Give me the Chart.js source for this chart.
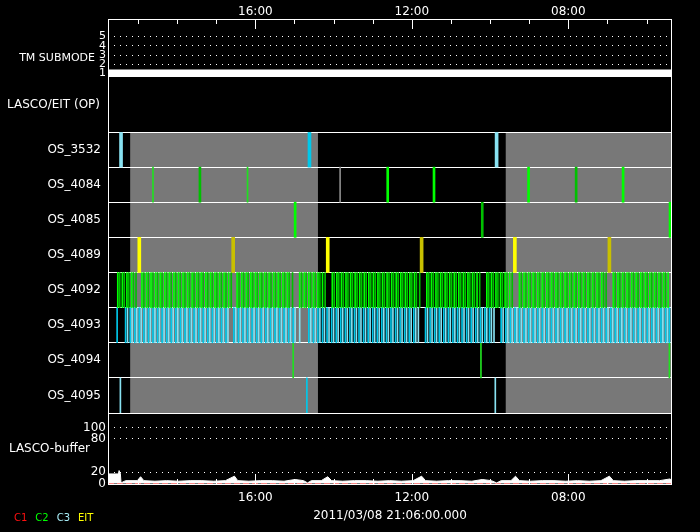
<!DOCTYPE html>
<html>
<head>
<meta charset="utf-8">
<script src="https://cdn.jsdelivr.net/npm/chart.js@4.4.1/dist/chart.umd.min.js"></script>
<style>
  html, body { margin: 0; background: #000; }
</style>
</head>
<body>
<canvas id="chart" width="700" height="532"></canvas>
<script>
// time axis: minutes from the left edge of the window
const xMax = 865;
const hourTicks = [46, 106, 166, 226, 286, 346, 406, 466, 526, 586, 646, 706, 766, 826];
const hourLabels = ["", "", "", "16:00", "", "", "", "12:00", "", "", "", "08:00", "", ""];
const dateLabel = "2011/03/08 21:06:00.000";

const rowNames = ["OS_3532", "OS_4084", "OS_4085", "OS_4089", "OS_4092", "OS_4093", "OS_4094", "OS_4095"];
const legendNames = ["C1", "C2", "C3", "EIT"];

const tmTicks = [1, 2, 3, 4, 5];
const tmTimes = [0, 865];
const tmSubmode = [1, 1];

const bufferTicks = [0, 20, 80, 100];

// grey blocks (minutes)
const shadeStart = [34, 610];
const shadeEnd = [322, 865];

// single images per row (minutes)
const os3532Light = [20, 596];
const os3532Cyan = [309];
const os4084Light = [69, 214];
const os4084Green = [429, 500, 645, 790];
const os4084Dark = [141, 718];
const os4084Grey = [356];
const os4085Green = [287, 862];
const os4085Dark = [574];
const os4089Yellow = [48, 337, 624];
const os4089Olive = [192, 481, 769];
const os4094Green = [284, 572, 861];
const os4095Light = [19, 594];
const os4095Cyan = [305];

// dense C2 sequence, OS_4092 (minutes)
const os4092Green = [15, 22, 29, 36, 52, 59, 66, 73, 80, 87, 94, 101, 108, 115, 122, 129, 136, 143, 150, 157,
  164, 171, 178, 185, 198, 205, 212, 219, 226, 233, 240, 247, 254, 261, 268, 275, 294, 301, 308, 315,
  322, 329, 344, 351, 358, 365, 372, 379, 386, 393, 400, 407, 414, 421, 428, 435, 442, 449, 456, 463,
  470, 489, 496, 503, 510, 517, 524, 531, 538, 545, 552, 559, 566, 581, 588, 595, 602, 609, 616, 631,
  638, 645, 652, 659, 666, 673, 680, 687, 694, 701, 708, 715, 722, 729, 736, 743, 750, 757, 775, 782,
  789, 796, 803, 810, 817, 824, 831, 838, 845, 852, 859];
const os4092Dark = [18, 25, 32, 39, 43, 55, 62, 69, 76, 83, 90, 97, 104, 111, 118, 125, 132, 139, 146, 153, 160,
  167, 174, 181, 189, 201, 208, 215, 222, 229, 236, 243, 250, 257, 264, 271, 278, 283, 297, 304, 311, 318, 325,
  333, 347, 354, 361, 368, 375, 382, 389, 396, 403, 410, 417, 424, 431, 438, 445, 452, 459, 466, 473, 478, 492,
  499, 506, 513, 520, 527, 534, 541, 548, 555, 562, 570, 584, 591, 598, 605, 612, 620, 634, 641, 648, 655, 662,
  669, 676, 683, 690, 697, 704, 711, 718, 725, 732, 739, 746, 753, 760, 764, 778, 785, 792, 799, 806, 813,
  820, 827, 834, 841, 848, 855];

// dense C3 sequence, OS_4093 (minutes)
const os4093Cyan = [14, 27, 34, 41, 48, 55, 62, 69, 76, 83, 90, 97, 104, 111, 118, 125, 132, 139, 146, 153,
  160, 167, 174, 181, 193, 200, 207, 214, 221, 228, 235, 242, 249, 256, 263, 270, 277, 284, 308, 315,
  322, 329, 336, 343, 350, 357, 364, 371, 378, 385, 392, 399, 406, 413, 420, 427, 434, 441, 448, 455,
  462, 469, 487, 494, 501, 508, 515, 522, 529, 536, 543, 550, 557, 564, 571, 578, 585, 603, 610, 617,
  624, 631, 638, 645, 652, 659, 666, 673, 680, 687, 694, 701, 708, 715, 722, 729, 736, 743, 750, 757,
  764, 771, 778, 785, 792, 799, 806, 813, 820, 827, 834, 841, 848, 855, 861];
const os4093Light = [30, 37, 44, 51, 58, 65, 72, 79, 86, 93, 100, 107, 114, 121, 128, 135, 142, 149, 156, 163,
  170, 177, 184, 196, 203, 210, 217, 224, 231, 238, 245, 252, 259, 266, 273, 280, 287, 294, 311, 318, 325, 332,
  339, 346, 353, 360, 367, 374, 381, 388, 395, 402, 409, 416, 423, 430, 437, 444, 451, 458, 465, 472, 476,
  490, 497, 504, 511, 518, 525, 532, 539, 546, 553, 560, 567, 574, 581, 588, 592, 606, 613, 620, 627, 634,
  641, 648, 655, 662, 669, 676, 683, 690, 697, 704, 711, 718, 725, 732, 739, 746, 753, 760, 767, 774,
  781, 788, 795, 802, 809, 816, 823, 830, 837, 844, 851, 858];

// LASCO buffer fill level
const bufferTimes = [0, 16, 17, 19, 20, 27, 45, 50, 55, 72, 90, 108, 126, 144, 162, 180, 194, 199, 216, 234,
  252, 270, 287, 300, 306, 312, 327, 337, 343, 360, 378, 396, 414, 432, 450, 468, 481, 487, 504, 522,
  540, 558, 574, 588, 596, 603, 618, 625, 631, 648, 666, 684, 702, 720, 738, 756, 769, 775, 792, 810,
  828, 846, 862, 865];
const bufferValues = [17, 17, 23, 17, 1, 5, 5, 12, 5, 4, 5, 4, 5, 5, 4, 5, 13, 5, 4, 5,
  5, 4, 7, 5, 1, 5, 5, 12, 5, 4, 5, 5, 4, 5, 4, 5, 13, 5, 4, 5,
  5, 4, 7, 5, 1, 5, 5, 13, 5, 4, 5, 5, 4, 5, 4, 5, 13, 5, 4, 5,
  5, 5, 8, 5];
const c1Times = [0, 865];
const c1Values = [0, 0];

const colors = {
  grey: "#787878",
  light: "#88e2f2",
  cyan: "#00c8ea",
  green: "#00ff00",
  dark: "#00c000",
  lightGreen: "#20e020",
  yellow: "#ffff00",
  olive: "#c8c000",
  red: "#ff1010",
};
const legendColors = [colors.red, colors.green, "#a8eef8", colors.yellow];

Chart.defaults.font.family = "'DejaVu Sans', sans-serif";
Chart.defaults.font.size = 12;
Chart.defaults.color = "#fff";

function marks(row, times, color, width) {
  return {
    type: "bar",
    xAxisID: "x",
    yAxisID: "yOs",
    data: times.map((t) => ({ x: t, y: [row, row + 1] })),
    backgroundColor: color,
    barThickness: width,
    grouped: false,
    borderWidth: 0,
  };
}

const datasets = [
  {
    type: "line",
    xAxisID: "x",
    yAxisID: "ySub",
    data: tmTimes.map((t, i) => ({ x: t, y: tmSubmode[i] })),
    borderColor: "#fff",
    borderWidth: 8,
    pointRadius: 0,
  },
  marks(0, os3532Light, colors.light, 3),
  marks(0, os3532Cyan, colors.cyan, 3),
  marks(1, os4084Light, colors.lightGreen, 1),
  marks(1, os4084Green, colors.green, 2),
  marks(1, os4084Dark, colors.dark, 2),
  marks(1, os4084Grey, "#8a8a8a", 1),
  marks(2, os4085Green, colors.green, 2),
  marks(2, os4085Dark, colors.dark, 2),
  marks(3, os4089Yellow, colors.yellow, 3),
  marks(3, os4089Olive, colors.olive, 3),
  marks(4, os4092Green, colors.green, 1),
  marks(4, os4092Dark, colors.dark, 1),
  marks(5, os4093Cyan, colors.cyan, 1),
  marks(5, os4093Light, colors.light, 1),
  marks(6, os4094Green, colors.lightGreen, 1),
  marks(7, os4095Light, colors.light, 1),
  marks(7, os4095Cyan, colors.cyan, 1),
  {
    type: "line",
    xAxisID: "x",
    yAxisID: "yBuf",
    data: bufferTimes.map((t, i) => ({ x: t, y: bufferValues[i] })),
    borderColor: "#fff",
    backgroundColor: "#fff",
    borderWidth: 1,
    fill: "origin",
    pointRadius: 0,
  },
  {
    type: "line",
    xAxisID: "x",
    yAxisID: "yBuf",
    data: c1Times.map((t, i) => ({ x: t, y: c1Values[i] })),
    borderColor: colors.red,
    borderWidth: 1,
    borderDash: [6, 3],
    pointRadius: 0,
  },
];

const panelLabels = {
  id: "panelLabels",
  beforeDraw(chart) {
    const { ctx, scales } = chart;
    // grey blocks behind the OS rows
    ctx.save();
    ctx.fillStyle = colors.grey;
    const top = scales.yOs.getPixelForValue(0);
    const bottom = scales.yOs.getPixelForValue(8);
    shadeStart.forEach((s, i) => {
      const x0 = scales.x.getPixelForValue(s);
      const x1 = scales.x.getPixelForValue(shadeEnd[i]);
      ctx.fillRect(x0, top, x1 - x0, bottom - top);
    });
    ctx.restore();
  },
  afterDraw(chart) {
    const { ctx, chartArea, scales } = chart;
    ctx.save();
    ctx.strokeStyle = "#fff";
    ctx.lineWidth = 1;
    ctx.strokeRect(chartArea.left + 0.5, chartArea.top + 0.5, chartArea.width - 1, chartArea.height);

    // inward hour ticks, top and bottom
    ctx.beginPath();
    hourTicks.forEach((v, i) => {
      const x = Math.round(scales.x.getPixelForValue(v)) + 0.5;
      const len = hourLabels[i] ? 10 : 5;
      ctx.moveTo(x, chartArea.top);
      ctx.lineTo(x, chartArea.top + len);
      ctx.moveTo(x, chartArea.bottom);
      ctx.lineTo(x, chartArea.bottom - len);
    });
    ctx.stroke();

    ctx.fillStyle = "#fff";
    ctx.textAlign = "right";
    ctx.textBaseline = "middle";
    ctx.font = "11px 'DejaVu Sans'";
    ctx.fillText("TM SUBMODE", 95, scales.ySub.getPixelForValue(2.7));
    ctx.font = "12px 'DejaVu Sans'";
    ctx.fillText("LASCO-buffer", 90, scales.yBuf.getPixelForValue(61));

    ctx.font = "10px 'DejaVu Sans'";
    ctx.textAlign = "left";
    let x = 14;
    legendNames.forEach((name, i) => {
      ctx.fillStyle = legendColors[i];
      ctx.fillText(name, x, 518);
      x += ctx.measureText(name).width + 8;
    });
    ctx.restore();
  },
};

function fixWidth(scale) {
  scale.width = 108;
}

const dotted = [1, 5];

new Chart(document.getElementById("chart"), {
  type: "bar",
  data: { datasets },
  plugins: [panelLabels],
  options: {
    responsive: false,
    animation: false,
    devicePixelRatio: 1,
    layout: { padding: { left: 0, right: 28, top: 0, bottom: 0 } },
    plugins: { legend: { display: false }, tooltip: { enabled: false } },
    scales: {
      x: {
        type: "linear",
        position: "bottom",
        min: 0,
        max: xMax,
        offset: false,
        bounds: "data",
        grid: { display: false, drawTicks: false },
        border: { display: false },
        afterBuildTicks: (s) => { s.ticks = hourTicks.map((v) => ({ value: v })); },
        ticks: { autoSkip: false, maxRotation: 0, padding: 7, callback: (v, i) => hourLabels[i] },
        title: { display: true, text: dateLabel, padding: { top: 0, bottom: 9 } },
        afterFit: (s) => { s.height = 48; },
      },
      x2: {
        type: "linear",
        position: "top",
        min: 0,
        max: xMax,
        offset: false,
        bounds: "data",
        grid: { display: false, drawTicks: false },
        border: { display: false },
        afterBuildTicks: (s) => { s.ticks = hourTicks.map((v) => ({ value: v })); },
        ticks: { autoSkip: false, maxRotation: 0, padding: 0, callback: (v, i) => hourLabels[i] },
        afterFit: (s) => { s.height = 19; },
      },
      ySub: {
        type: "linear",
        position: "left",
        stack: "panels",
        stackWeight: 58,
        weight: 4,
        min: 0.62,
        max: 6.9,
        bounds: "data",
        afterBuildTicks: (s) => { s.ticks = tmTicks.map((v) => ({ value: v })); },
        ticks: { autoSkip: false, padding: 2, font: { size: 11 } },
        grid: {
          drawTicks: false,
          color: (c) => (c.tick && c.tick.value >= 2 ? "#fff" : "transparent"),
        },
        border: { display: false, dash: dotted },
        afterFit: fixWidth,
      },
      yOp: {
        type: "linear",
        position: "left",
        stack: "panels",
        stackWeight: 55,
        weight: 3,
        min: 0,
        max: 1,
        bounds: "data",
        afterBuildTicks: (s) => { s.ticks = [{ value: 0.5 }]; },
        ticks: { autoSkip: false, padding: 8, callback: () => "LASCO/EIT (OP)" },
        grid: { display: false, drawTicks: false },
        border: { display: false },
        afterFit: fixWidth,
      },
      yOs: {
        type: "linear",
        position: "left",
        stack: "panels",
        stackWeight: 281,
        weight: 2,
        min: 0,
        max: 8,
        reverse: true,
        bounds: "data",
        afterBuildTicks: (s) => {
          const t = [];
          for (let i = 0; i <= 16; i++) t.push({ value: i / 2 });
          s.ticks = t;
        },
        ticks: {
          autoSkip: false,
          padding: 7,
          callback: (v) => (v % 1 === 0.5 ? rowNames[Math.floor(v)] : ""),
        },
        grid: {
          drawTicks: false,
          color: (c) => (c.tick && Number.isInteger(c.tick.value) ? "#fff" : "transparent"),
        },
        border: { display: false },
        afterFit: fixWidth,
      },
      yBuf: {
        type: "linear",
        position: "left",
        stack: "panels",
        stackWeight: 71,
        weight: 1,
        min: -1,
        max: 126,
        bounds: "data",
        afterBuildTicks: (s) => { s.ticks = bufferTicks.map((v) => ({ value: v })); },
        ticks: { autoSkip: false, padding: 2 },
        grid: {
          drawTicks: false,
          color: (c) => (c.tick && c.tick.value > 0 ? "#fff" : "transparent"),
        },
        border: { display: false, dash: dotted },
        afterFit: fixWidth,
      },
    },
  },
});
</script>
</body>
</html>
